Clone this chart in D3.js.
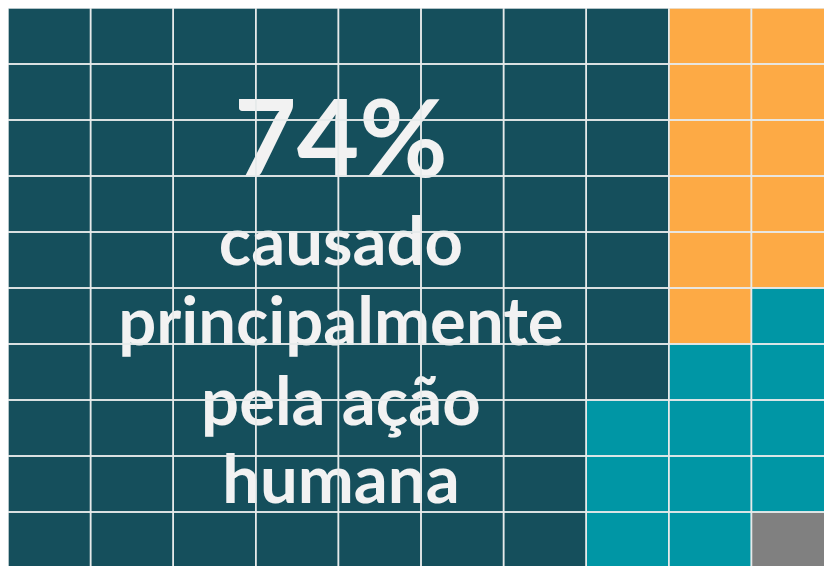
<!DOCTYPE html>
<html lang="pt">
<head>
    <meta charset="UTF-8">
    <title>Waffle</title>
    <script src="https://d3js.org/d3.v7.min.js"></script>
    <style>
        html, body { margin: 0; padding: 0; overflow: hidden; background: #ffffff; width: 824px; height: 566px; }
        svg { position: absolute; left: 8px; top: 8px; }
        .big { font-family: Lato, sans-serif; font-weight: 700; fill: #f2f2f2; }
    </style>
</head>
<body>
<svg></svg>
<script>
    // categories and how many of the 100 squares each one takes
    const categories = ["humana", "natural", "ambos", "nao_sabe"];
    const counts = [77, 11, 11, 1];
    const colors = ["#154f5c", "#fdaa45", "#0096a5", "#808080"];

    // which category sits in each square, one string per column (top -> bottom)
    const columns = [
        "0000000000",
        "0000000000",
        "0000000000",
        "0000000000",
        "0000000000",
        "0000000000",
        "0000000000",
        "0000000222",
        "1111112222",
        "1111122223"
    ];

    const headline = "74%";
    const labelLines = ["causado", "principalmente", "pela ação", "humana"];

    const width = 826, height = 560;
    let svg = d3.select("svg").attr("width", width).attr("height", height);

    let cells = [];
    columns.forEach(function (col, c) {
        col.split("").forEach(function (k, r) {
            cells.push({col: c, row: r, cat: +k});
        });
    });

    let x = d3.scaleBand().domain(d3.range(columns.length)).range([0, width]);
    let y = d3.scaleBand().domain(d3.range(10)).range([0, height]);
    let color = d3.scaleOrdinal().domain(d3.range(categories.length)).range(colors);

    svg.append("g").selectAll("rect")
        .data(cells)
        .enter()
        .append("rect")
        .attr("x", d => x(d.col))
        .attr("y", d => y(d.row))
        .attr("width", x.bandwidth())
        .attr("height", y.bandwidth())
        .attr("fill", d => color(d.cat));

    // text centred over the first eight columns
    const cx = (x(0) + x(7) + x.bandwidth()) / 2 + 2.5;
    let txt = svg.append("g").attr("class", "big").attr("text-anchor", "middle");
    txt.append("text").attr("x", cx).attr("y", 169).attr("font-size", 108).text(headline);
    txt.selectAll("text.line")
        .data(labelLines)
        .enter()
        .append("text")
        .attr("class", "line")
        .attr("x", cx)
        .attr("y", (d, i) => [257, 337, 417, 495][i])
        .attr("font-size", 67)
        .text(d => d);

    // grid lines on top
    svg.append("g").selectAll("rect")
        .data(cells)
        .enter()
        .append("rect")
        .attr("x", d => x(d.col))
        .attr("y", d => y(d.row))
        .attr("width", x.bandwidth())
        .attr("height", y.bandwidth())
        .attr("fill", "none")
        .attr("stroke", "#e6eaea")
        .attr("stroke-width", 1.5);
</script>
</body>
</html>
